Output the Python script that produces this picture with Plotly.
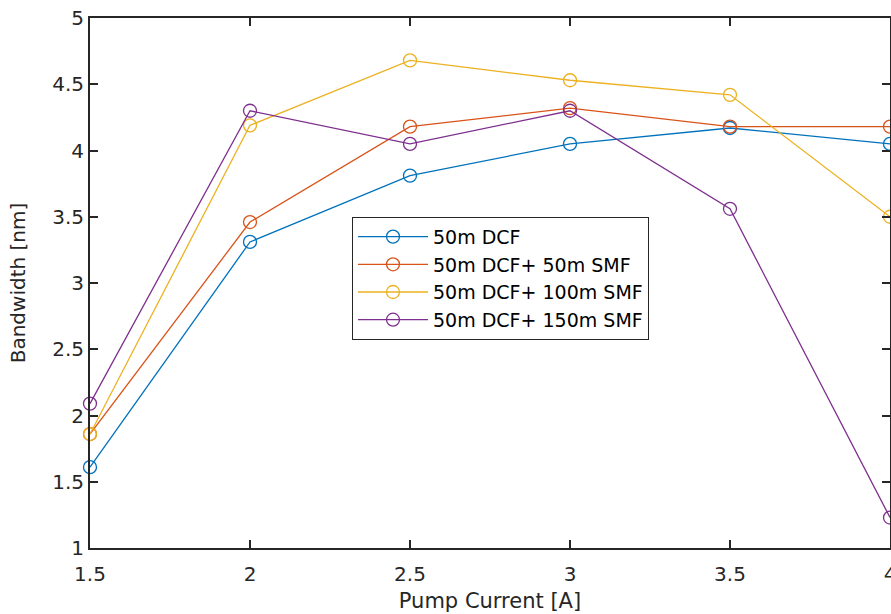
import plotly.graph_objects as go

# Pump current settings [A]
pump_current = [1.5, 2.0, 2.5, 3.0, 3.5, 4.0]

# Measured bandwidth [nm] for each fibre configuration
bw_dcf = [1.61, 3.31, 3.81, 4.05, 4.17, 4.05]
bw_dcf_50smf = [1.86, 3.46, 4.18, 4.32, 4.18, 4.18]
bw_dcf_100smf = [1.86, 4.19, 4.68, 4.53, 4.42, 3.50]
bw_dcf_150smf = [2.09, 4.30, 4.05, 4.30, 3.56, 1.23]

series_names = ["50m DCF", "50m DCF+ 50m SMF", "50m DCF+ 100m SMF", "50m DCF+ 150m SMF"]
series_values = [bw_dcf, bw_dcf_50smf, bw_dcf_100smf, bw_dcf_150smf]
series_colors = ["#0072BD", "#D95319", "#EDB120", "#7E2F8E"]

x_ticks = [1.5, 2, 2.5, 3, 3.5, 4]
y_ticks = [1, 1.5, 2, 2.5, 3, 3.5, 4, 4.5, 5]

FONT = "DejaVu Sans, Liberation Sans, Arial, sans-serif"
INK = "#262626"

fig = go.Figure()
for name, vals, col in zip(series_names, series_values, series_colors):
    fig.add_trace(go.Scatter(
        x=pump_current, y=vals, name=name, mode="lines+markers",
        line=dict(color=col, width=1.3),
        marker=dict(symbol="circle-open", size=13, color=col, line=dict(width=1.3, color=col)),
        cliponaxis=False,
    ))

axis_common = dict(
    showgrid=False, zeroline=False, showline=True, linecolor=INK, linewidth=2,
    mirror="ticks", ticks="inside", ticklen=8, tickwidth=2, tickcolor=INK,
    tickfont=dict(family=FONT, size=20, color=INK),
    ticklabeloverflow="allow", automargin=False,
)

fig.update_xaxes(
    range=[1.5, 4], tickvals=x_ticks, ticktext=[f"{v:g}" for v in x_ticks],
    ticklabelstandoff=7,
    title=dict(text="Pump Current [A]", font=dict(family=FONT, size=21, color=INK), standoff=8),
    **axis_common,
)
fig.update_yaxes(
    range=[1, 5], tickvals=y_ticks, ticktext=[f"{v:g}" for v in y_ticks],
    title=dict(text="Bandwidth [nm]", font=dict(family=FONT, size=20, color=INK), standoff=21),
    **axis_common,
)

fig.update_layout(
    width=891, height=614,
    margin=dict(l=90, r=1, t=18, b=66),
    paper_bgcolor="white", plot_bgcolor="white",
    showlegend=True,
    legend=dict(
        x=0.3275, y=0.625, xanchor="left", yanchor="top",
        bordercolor=INK, borderwidth=1, bgcolor="white",
        font=dict(family=FONT, size=19, color="#000000"),
        itemwidth=70, tracegroupgap=0,
    ),
)

fig.write_html("out.html")
